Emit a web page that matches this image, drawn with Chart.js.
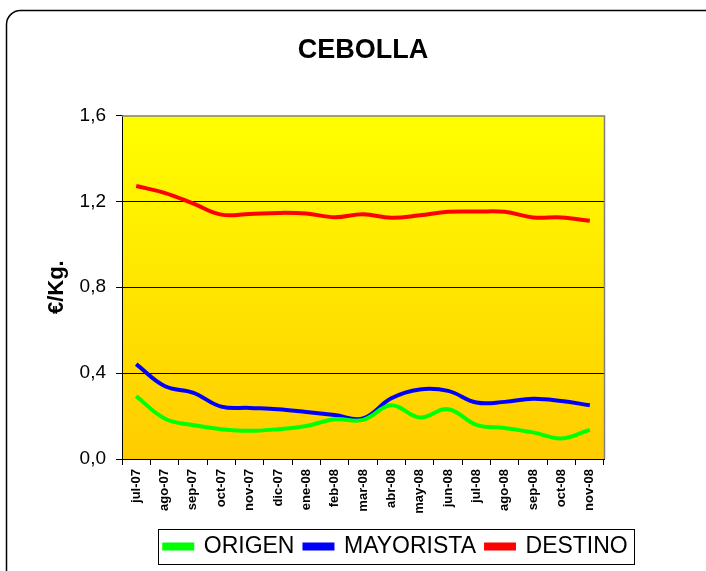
<!DOCTYPE html>
<html>
<head>
<meta charset="utf-8">
<title>CEBOLLA</title>
<script src="https://cdn.jsdelivr.net/npm/chart.js@4/dist/chart.umd.min.js"></script>
<style>
html, body { margin: 0; padding: 0; background: #fff; }
#wrap { width: 706px; height: 571px; }
</style>
</head>
<body>
<div id="wrap"><canvas id="cebollaChart" width="706" height="571"></canvas></div>
<script>
// months jul-07 .. nov-08
const meses = ['jul-07','ago-07','sep-07','oct-07','nov-07','dic-07','ene-08','feb-08','mar-08','abr-08','may-08','jun-08','jul-08','ago-08','sep-08','oct-08','nov-08'];

// prices €/Kg
const origen = [0.293,0.189,0.158,0.139,0.131,0.139,0.154,0.185,0.182,0.250,0.193,0.232,0.159,0.144,0.124,0.096,0.136];
const mayorista = [0.442,0.340,0.309,0.244,0.238,0.232,0.219,0.205,0.189,0.283,0.324,0.317,0.263,0.266,0.281,0.270,0.250];
const destino = [1.271,1.239,1.190,1.138,1.141,1.146,1.143,1.126,1.140,1.123,1.135,1.151,1.152,1.151,1.125,1.125,1.109];

const yTicks = [0, 0.4, 0.8, 1.2, 1.6];

const FONT = 'Arial, "Liberation Sans"';
const LEGEND_CENTER = 396;

// background, frame, title/legend placement and legend box
const decor = {
  id: 'decor',
  afterLayout(chart) {
    const a = chart.chartArea;
    // centre the title over the plot area
    chart.titleBlock.left = a.left;
    chart.titleBlock.right = a.right;
    chart.titleBlock.width = a.right - a.left;
    // move the legend block so its items centre on LEGEND_CENTER
    const lg = chart.legend;
    const w = lg.right - lg.left;
    lg.left = LEGEND_CENTER - w / 2;
    lg.right = lg.left + w;
  },
  beforeDraw(chart) {
    const c = chart.ctx;
    const a = chart.chartArea;
    c.save();
    c.strokeStyle = '#000';
    c.lineWidth = 1.5;
    c.beginPath();
    c.roundRect(6.5, 10.5, 740, 600, 14);
    c.stroke();
    const g = c.createLinearGradient(0, a.top, 0, a.bottom);
    g.addColorStop(0, '#FFFF00');
    g.addColorStop(1, '#FFCC00');
    c.fillStyle = g;
    c.fillRect(a.left, a.top, a.right - a.left, a.bottom - a.top);
    c.restore();
  },
  afterDraw(chart) {
    const c = chart.ctx;
    const a = chart.chartArea;
    c.save();
    c.strokeStyle = '#808080';
    c.lineWidth = 1.5;
    c.beginPath();
    c.moveTo(a.left, a.top + 0.5);
    c.lineTo(a.right + 0.5, a.top + 0.5);
    c.lineTo(a.right + 0.5, a.bottom);
    c.stroke();
    const boxes = chart.legend.legendHitBoxes;
    if (boxes && boxes.length) {
      const l = Math.min(...boxes.map(b => b.left)) - 6;
      const r = Math.max(...boxes.map(b => b.left + b.width)) + 6;
      const t = boxes[0].top - 6;
      const h = boxes[0].height + 12;
      c.strokeStyle = '#000';
      c.lineWidth = 1;
      c.strokeRect(Math.round(l) + 0.5, Math.round(t) + 0.5, Math.round(r - l), Math.round(h));
    }
    c.restore();
  }
};

const serie = (label, data, color) => ({
  label: label,
  data: data,
  borderColor: color,
  backgroundColor: color,
  borderWidth: 4,
  pointRadius: 0,
  tension: 0.4,
  fill: false
});

new Chart(document.getElementById('cebollaChart'), {
  type: 'line',
  data: {
    labels: meses,
    datasets: [
      serie('ORIGEN', origen, '#00FF00'),
      serie('MAYORISTA', mayorista, '#0000FF'),
      serie('DESTINO', destino, '#FF0000')
    ]
  },
  options: {
    responsive: false,
    animation: false,
    layout: { padding: { left: 0, right: 102, top: 0, bottom: 3 } },
    plugins: {
      title: {
        display: true,
        text: 'CEBOLLA',
        color: '#000',
        font: { family: FONT, size: 27, weight: 'bold' },
        padding: { top: 34, bottom: 49 }
      },
      legend: {
        position: 'bottom',
        align: 'center',
        labels: {
          color: '#000',
          font: { family: FONT, size: 23 },
          boxWidth: 28,
          boxHeight: 4,
          padding: 10
        }
      },
      tooltip: { enabled: false }
    },
    scales: {
      x: {
        offset: true,
        grid: { offset: true, drawOnChartArea: false, drawTicks: true, tickLength: 6, tickColor: '#000' },
        border: { color: '#000', width: 1 },
        ticks: {
          color: '#000',
          font: { family: FONT, size: 13, weight: 'bold' },
          minRotation: 90,
          maxRotation: 90,
          autoSkip: false,
          padding: 4
        },
        afterFit: s => { s.height = 66; }
      },
      y: {
        min: 0,
        max: 1.6,
        afterBuildTicks: s => { s.ticks = yTicks.map(v => ({ value: v })); },
        grid: {
          color: g => (g.tick && g.tick.value > 0 && g.tick.value < 1.6) ? '#000' : 'rgba(0,0,0,0)',
          lineWidth: 1,
          tickLength: 6,
          tickColor: '#000'
        },
        border: { color: '#000', width: 1 },
        ticks: {
          color: '#000',
          padding: 10,
          font: { family: FONT, size: 19 },
          callback: v => v.toFixed(1).replace('.', ',')
        },
        title: {
          display: true,
          text: '€/Kg.',
          color: '#000',
          font: { family: FONT, size: 22, weight: 'bold' },
          padding: { top: 44, bottom: 0 }
        },
        afterFit: s => { s.width = 122; }
      }
    }
  },
  plugins: [decor]
});
</script>
</body>
</html>
